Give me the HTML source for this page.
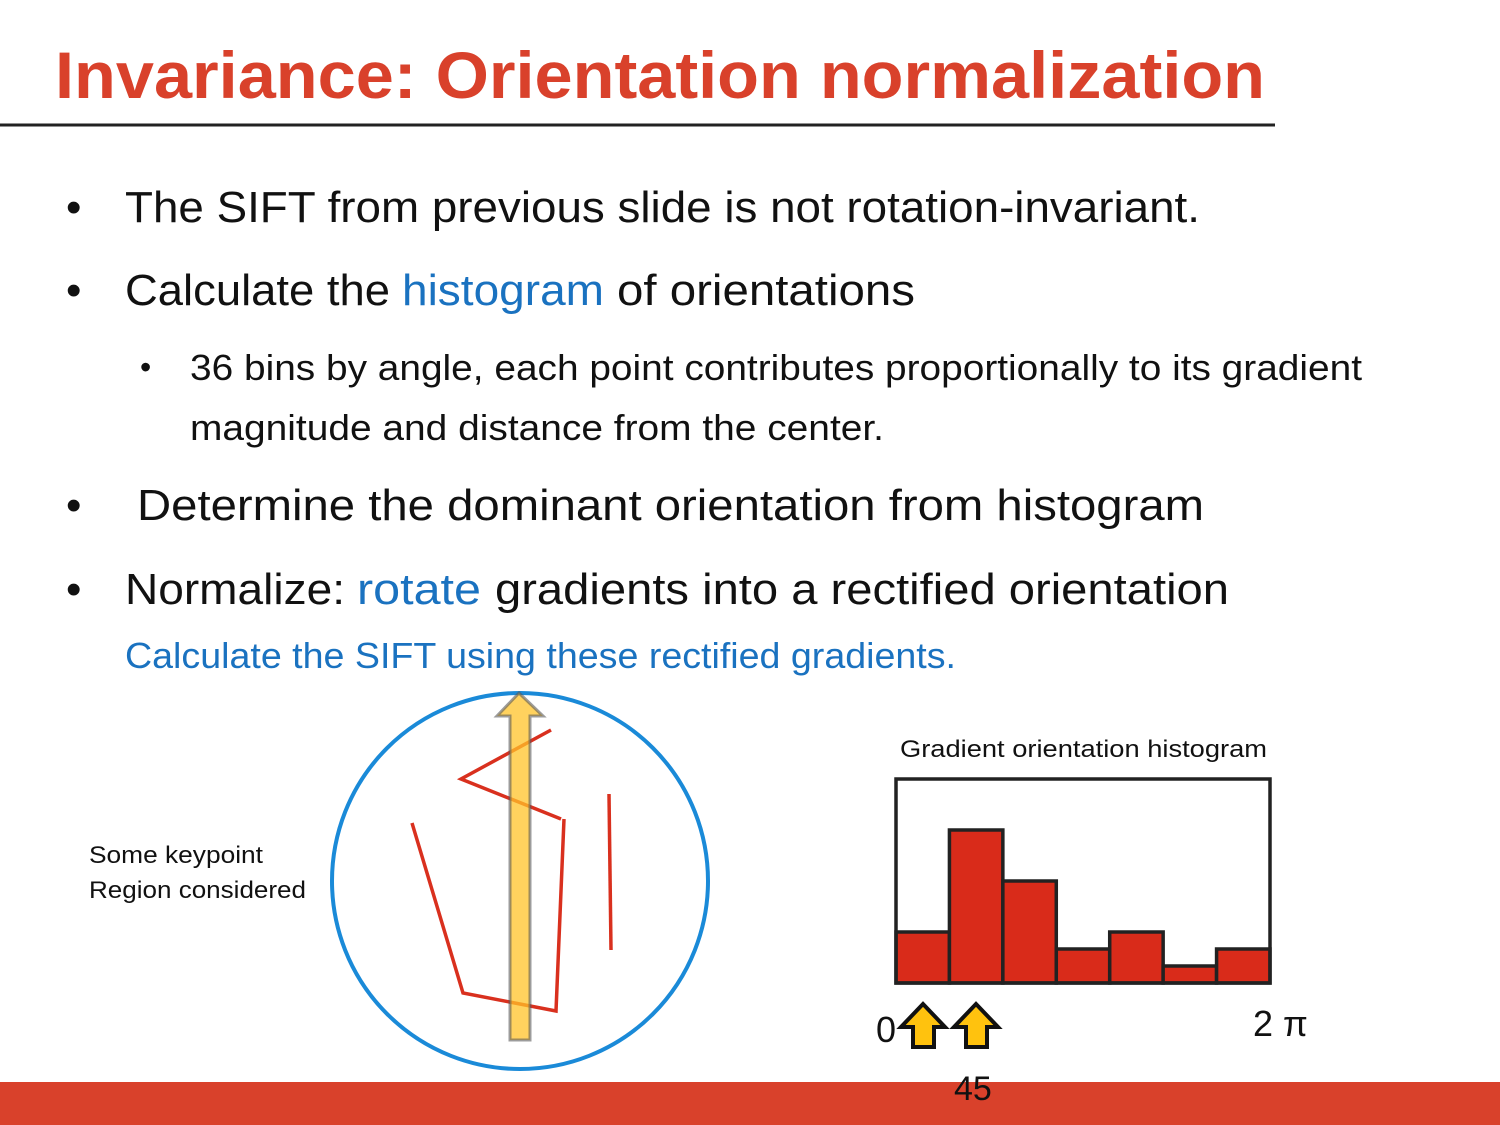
<!DOCTYPE html>
<html><head><meta charset="utf-8"><style>
html,body{margin:0;padding:0;background:#fff;}
svg{display:block;font-family:"Liberation Sans",sans-serif;}
</style></head><body>
<svg width="1500" height="1125" viewBox="0 0 1500 1125">
<text x="55" y="98" font-size="66" font-weight="bold" fill="#d9412b" textLength="1210" lengthAdjust="spacingAndGlyphs">Invariance: Orientation normalization</text>
<line x1="0" y1="125" x2="1275" y2="125" stroke="#222" stroke-width="3"/>
<g font-size="44" fill="#111">
<text x="66" y="222">•</text>
<text x="125" y="222" textLength="1075" lengthAdjust="spacingAndGlyphs">The SIFT from previous slide is not rotation-invariant.</text>
<text x="66" y="305">•</text>
<text x="125" y="305" textLength="265" lengthAdjust="spacingAndGlyphs">Calculate the</text>
<text x="402" y="305" fill="#1a72c0" textLength="202" lengthAdjust="spacingAndGlyphs">histogram</text>
<text x="617" y="305" textLength="298" lengthAdjust="spacingAndGlyphs">of orientations</text>
<text x="140" y="378" font-size="32">•</text>
<text x="190" y="380" font-size="36" textLength="1172" lengthAdjust="spacingAndGlyphs">36 bins by angle, each point contributes proportionally to its gradient</text>
<text x="190" y="440" font-size="36" textLength="694" lengthAdjust="spacingAndGlyphs">magnitude and distance from the center.</text>
<text x="66" y="520">•</text>
<text x="137" y="520" textLength="1067" lengthAdjust="spacingAndGlyphs">Determine the dominant orientation from histogram</text>
<text x="66" y="604">•</text>
<text x="125" y="604" textLength="220" lengthAdjust="spacingAndGlyphs">Normalize:</text>
<text x="357" y="604" fill="#1a72c0" textLength="124" lengthAdjust="spacingAndGlyphs">rotate</text>
<text x="495" y="604" textLength="734" lengthAdjust="spacingAndGlyphs">gradients into a rectified orientation</text>
<text x="125" y="668" font-size="36" fill="#1a72c0" textLength="831" lengthAdjust="spacingAndGlyphs">Calculate the SIFT using these rectified gradients.</text>
</g>
<text x="89" y="863" font-size="24" fill="#111" textLength="174" lengthAdjust="spacingAndGlyphs">Some keypoint</text>
<text x="89" y="898" font-size="24" fill="#111" textLength="217" lengthAdjust="spacingAndGlyphs">Region considered</text>
<circle cx="520" cy="881" r="188" fill="none" stroke="#1a8ad8" stroke-width="4"/>
<g stroke="#d9301e" stroke-width="3.5" fill="none">
<polyline points="551,730 461,779 561,819"/>
<polyline points="564,819 556,1011 463,993 412,823"/>
<line x1="609" y1="794" x2="611" y2="950"/>
</g>
<polygon points="519,693 543,716 530,716 530,1040 510,1040 510,716 497,716" fill="rgba(255,195,40,0.75)" stroke="rgba(90,90,90,0.6)" stroke-width="3"/>
<text x="900" y="757" font-size="24" fill="#111" textLength="367" lengthAdjust="spacingAndGlyphs">Gradient orientation histogram</text>
<g id="hist"></g>
<rect x="896" y="779" width="374" height="204" fill="none" stroke="#222" stroke-width="3.5"/>
<text x="876" y="1042" font-size="36" fill="#111">0</text>
<text x="1253" y="1036" font-size="36" fill="#111">2 π</text>
<g fill="#ffc20e" stroke="#111" stroke-width="4">
<polygon points="923,1004 945,1027 934,1027 934,1047 913,1047 913,1027 901,1027"/>
<polygon points="976,1004 998,1027 987,1027 987,1047 966,1047 966,1027 954,1027"/>
</g>
<rect x="0" y="1082" width="1500" height="43" fill="#d9412b"/>
<text x="954" y="1100" font-size="34" fill="#111">45</text>
</svg>
<script>
const binLabels=["b1","b2","b3","b4","b5","b6","b7"];
const binValues=[3,9,6,2,3,1,2];
const yMax=12;
const x0=896,x1=1270,yBase=983,yTop=779;
const g=document.getElementById('hist');
const bw=(x1-x0)/binValues.length;
const ys=v=>yBase-(v/yMax)*(yBase-yTop);
binValues.forEach((v,i)=>{
  const r=document.createElementNS('http://www.w3.org/2000/svg','rect');
  
  
  r.setAttribute('x',x0+i*bw);
  r.setAttribute('y',ys(v));
  r.setAttribute('width',bw);
  r.setAttribute('height',yBase-ys(v));
  r.setAttribute('fill','#d92b1a');
  r.setAttribute('stroke','#222');
  r.setAttribute('stroke-width','3.5');
  g.appendChild(r);
});
</script>
</body></html>
